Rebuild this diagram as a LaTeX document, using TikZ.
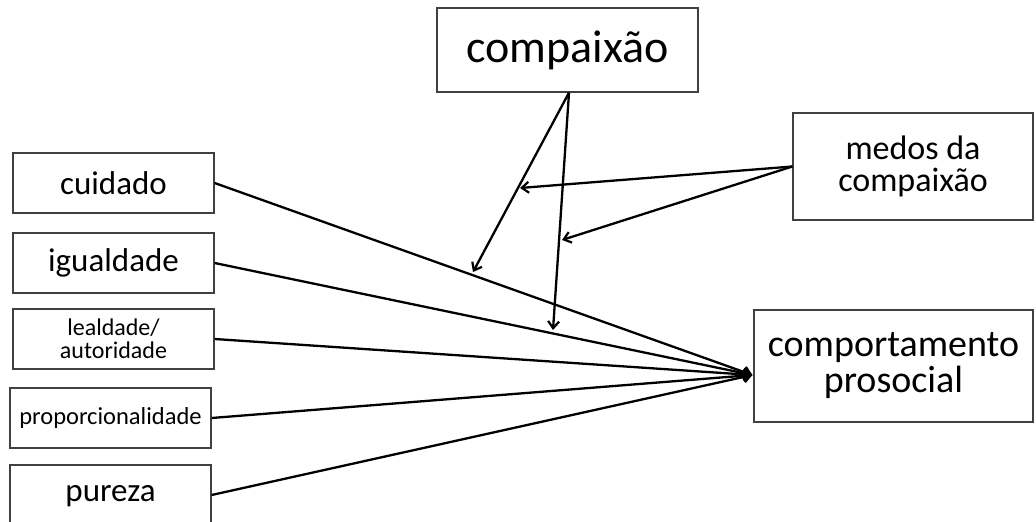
\documentclass[tikz,border=0pt]{standalone}
\usepackage{fontspec}
\setmainfont{Carlito}
\usetikzlibrary{arrows.meta,calc}
\begin{document}
\begin{tikzpicture}[x=1pt,y=-1pt,
  box/.style={draw=black!75,line width=1.3pt,fill=white,inner sep=0pt,align=center},
  conn/.style={line width=2.3pt,-{Straight Barb[length=7pt,width=11pt,line width=2.2pt]}}]
\useasboundingbox (0,0) rectangle (1036,522);
\fill[white] (0,0) rectangle (1036,522);
% boxes
\node[box,minimum width=261pt,minimum height=84pt,font=\fontsize{46}{46}\selectfont] (comp) at (567.5,50) {compaixão};
\node[box,minimum width=240pt,minimum height=107pt,font=\fontsize{34}{32.5}\selectfont] (medos) at (913,166.5) {medos da\\compaixão};
\node[box,minimum width=279pt,minimum height=112pt,font=\fontsize{38}{36}\selectfont] (prosoc) at (893.5,366) {comportamento\\prosocial};
\node[box,minimum width=201pt,minimum height=60pt,font=\fontsize{33}{33}\selectfont] (cuid) at (113.5,183) {cuidado};
\node[box,minimum width=201pt,minimum height=60pt,font=\fontsize{33}{33}\selectfont] (igual) at (113.5,263) {igualdade};
\node[box,minimum width=201pt,minimum height=60pt,font=\fontsize{24}{23.5}\selectfont] (leal) at (113.5,339) {lealdade/\\autoridade};
\node[box,minimum width=201pt,minimum height=60pt,font=\fontsize{24.5}{24}\selectfont] (prop) at (110.5,418) {proporcionalidade};
\node[box,minimum width=201pt,minimum height=62pt,font=\fontsize{33}{33}\selectfont] (pur) at (110.5,496) {pureza};
% convergence point
\coordinate (conv) at ([xshift=-1pt]prosoc.west |- 0,375);
\coordinate (cs) at ([xshift=1.5pt]comp.south);
\coordinate (e1) at (473,272);
\coordinate (e2) at (553,330);
\coordinate (m1) at (520,188);
\coordinate (m2) at (562,240);
% connectors
\draw[conn] (cuid.east) -- (conv);
\draw[conn] (igual.east) -- (conv);
\draw[conn] (leal.east) -- (conv);
\draw[conn] (prop.east) -- (conv);
\draw[conn] (pur.east |- 0,495) -- (conv);
\draw[conn] (cs) -- (e1);
\draw[conn] (cs) -- (e2);
\draw[conn] (medos.west) -- (m1);
\draw[conn] (medos.west) -- (m2);
\end{tikzpicture}
\end{document}
